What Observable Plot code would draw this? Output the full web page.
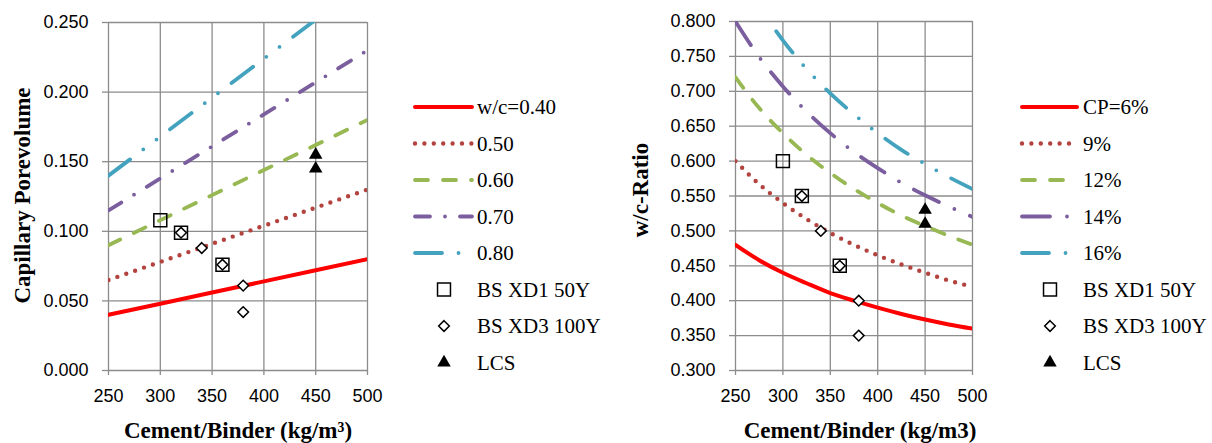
<!DOCTYPE html>
<html><head><meta charset="utf-8">
<script src="https://cdn.jsdelivr.net/npm/d3@7"></script>
<script src="https://cdn.jsdelivr.net/npm/@observablehq/plot@0.6"></script>
<style>
body{margin:0;background:#fff;}
#wrap{position:relative;width:1212px;height:443px;overflow:hidden;background:#fff;}
#wrap svg{position:absolute;top:0;}
</style></head><body><div id="wrap"></div>
<script>
// ---------- Left chart: capillary porevolume vs cement content ----------
const cementL = [250, 300, 350, 400, 450, 500];
const cpWc040 = [0.040, 0.048, 0.056, 0.064, 0.072, 0.080];
const cpWc050 = [0.065, 0.078, 0.091, 0.104, 0.117, 0.130];
const cpWc060 = [0.090, 0.108, 0.126, 0.144, 0.162, 0.180];
const cpWc070 = [0.115, 0.138, 0.161, 0.184, 0.207, 0.230];
const cpWc080 = [0.140, 0.168, 0.196, 0.224, 0.252, 0.280];
const labelsL = ["w/c=0.40", "0.50", "0.60", "0.70", "0.80"];
const xd1L_x = [300, 320, 360];
const xd1L_y = [0.108, 0.099, 0.076];
const xd3L_x = [320, 340, 360, 380, 380];
const xd3L_y = [0.099, 0.088, 0.076, 0.061, 0.042];
const lcsL_x = [450, 450];
const lcsL_y = [0.155, 0.145];
const yTicksL = [0, 0.05, 0.10, 0.15, 0.20, 0.25];

// ---------- Right chart: w/c ratio vs cement content ----------
const cementR = [250, 275, 300, 325, 350, 375, 400, 425, 450, 475, 500];
const wcCp06 = [0.480, 0.458, 0.440, 0.425, 0.411, 0.400, 0.390, 0.381, 0.373, 0.366, 0.360];
const wcCp09 = [0.600, 0.567, 0.540, 0.517, 0.497, 0.480, 0.465, 0.452, 0.440, 0.429, 0.420];
const wcCp12 = [0.720, 0.676, 0.640, 0.609, 0.583, 0.560, 0.540, 0.522, 0.507, 0.493, 0.480];
const wcCp14 = [0.800, 0.749, 0.707, 0.671, 0.640, 0.613, 0.590, 0.569, 0.551, 0.535, 0.520];
const wcCp16 = [0.880, 0.822, 0.773, 0.732, 0.697, 0.667, 0.640, 0.616, 0.596, 0.577, 0.560];
const labelsR = ["CP=6%", "9%", "12%", "14%", "16%"];
const xd1R_x = [300, 320, 360];
const xd1R_y = [0.600, 0.550, 0.450];
const xd3R_x = [320, 340, 360, 380, 380];
const xd3R_y = [0.550, 0.500, 0.450, 0.400, 0.350];
const lcsR_x = [450, 450];
const lcsR_y = [0.530, 0.510];
const yTicksR = [0.30, 0.35, 0.40, 0.45, 0.50, 0.55, 0.60, 0.65, 0.70, 0.75, 0.80];

const xTicks = [250, 300, 350, 400, 450, 500];
const pointLabels = ["BS XD1 50Y", "BS XD3 100Y", "LCS"];

// ---------- styles ----------
const lineColors = ["#FF0000", "#B3433F", "#97B852", "#7B5E9E", "#43A2BE"];
const lineWidths = [4, 4.4, 3.8, 3.8, 3.8];
const dashesL = [null, "0 9.4", "13 15", "15 15 0 15", "27 16.5 0 16.5 0 17"];
const dashesR = [null, "0 9.4", "13 15", "28 17 0 17", "27 16.5 0 16.5 0 17"];
const GRID = "#8c8c8c";
const SANS = "'Liberation Sans', Arial, sans-serif";
const SERIF = "'Liberation Serif', 'Times New Roman', serif";
const SQ_R = 7.3, DI_R = 4.8, TR_R = 5;

const pts = (xs, ys) => xs.map((x, i) => ({x, y: ys[i]}));

function makeChart(cfg) {
  const lineMarks = cfg.series.map((arr, i) =>
    Plot.line(arr.map((v, j) => ({x: cfg.xs[j], y: v})), {
      x: "x", y: "y", stroke: lineColors[i], strokeWidth: lineWidths[i],
      strokeDasharray: cfg.dashes[i] || undefined, strokeLinecap: "round",
      strokeLinejoin: "round", clip: true, curve: cfg.curve
    }));
  return Plot.plot({
    width: cfg.width, height: 443,
    marginLeft: cfg.marginLeft, marginRight: cfg.marginRight,
    marginTop: cfg.marginTop, marginBottom: 73,
    style: {fontFamily: SANS, fontSize: "18px", background: "transparent", left: cfg.left + "px", overflow: "visible"},
    x: {domain: [250, 500]},
    y: {domain: cfg.yDomain},
    marks: [
      Plot.gridX(xTicks, {stroke: GRID, strokeOpacity: 1, strokeWidth: 1.3}),
      Plot.gridY(cfg.yTicks, {stroke: GRID, strokeOpacity: 1, strokeWidth: 1.3}),
      Plot.axisX({ticks: xTicks, tickSize: 5, tickPadding: 14, stroke: GRID, strokeWidth: 1.3, fill: "#000", fontSize: 18, label: null, tickFormat: d3.format("d")}),
      Plot.axisY({ticks: cfg.yTicks, tickSize: 6, tickPadding: 14, stroke: GRID, strokeWidth: 1.3, fill: "#000", fontSize: 18, label: null, tickFormat: d3.format(".3f")}),
      ...lineMarks,
      Plot.dot(cfg.squares, {x: "x", y: "y", symbol: "square", r: SQ_R, stroke: "#000", strokeWidth: 1.5, fill: "none"}),
      Plot.dot(cfg.diamonds, {x: "x", y: "y", symbol: "diamond2", r: DI_R, stroke: "#000", strokeWidth: 1.5, fill: "#fff"}),
      Plot.dot(cfg.triangles, {x: "x", y: "y", symbol: "triangle", r: TR_R, stroke: "none", fill: "#000"}),
      Plot.text([cfg.xTitle], {frameAnchor: "bottom", textAnchor: "middle", lineAnchor: "middle", dy: 60, dx: cfg.xTitleDx, fontFamily: SERIF, fontWeight: "bold", fontSize: 23, fill: "#000"}),
      Plot.text([cfg.yTitle], {frameAnchor: "left", textAnchor: "middle", lineAnchor: "middle", rotate: -90, dx: cfg.yTitleDx, dy: cfg.yTitleDy, fontFamily: SERIF, fontWeight: "bold", fontSize: 23, fill: "#000"})
    ]
  });
}

const wrap = document.getElementById("wrap");

wrap.appendChild(makeChart({
  left: 0, width: 380, marginLeft: 108, marginRight: 13, marginTop: 22,
  xs: cementL, series: [cpWc040, cpWc050, cpWc060, cpWc070, cpWc080], dashes: dashesL,
  curve: "linear", yDomain: [0, 0.25], yTicks: yTicksL,
  squares: pts(xd1L_x, xd1L_y), diamonds: pts(xd3L_x, xd3L_y), triangles: pts(lcsL_x, lcsL_y),
  xTitle: "Cement/Binder (kg/m³)", xTitleDx: 0,
  yTitle: "Capillary Porevolume", yTitleDx: -86, yTitleDy: -1
}));

wrap.appendChild(makeChart({
  left: 600, width: 390, marginLeft: 135, marginRight: 18, marginTop: 21,
  xs: cementR, series: [wcCp06, wcCp09, wcCp12, wcCp14, wcCp16], dashes: dashesR,
  curve: "monotone-x", yDomain: [0.3, 0.8], yTicks: yTicksR,
  squares: pts(xd1R_x, xd1R_y), diamonds: pts(xd3R_x, xd3R_y), triangles: pts(lcsR_x, lcsR_y),
  xTitle: "Cement/Binder (kg/m3)", xTitleDx: 6,
  yTitle: "w/c-Ratio", yTitleDx: -95, yTitleDy: -6
}));

// ---------- legends ----------
const leg = d3.select(wrap).append("svg")
  .attr("width", 1212).attr("height", 443)
  .style("left", "0px").style("pointer-events", "none");

function drawLegend(x0, x1, markerX, textX, labels, dashes) {
  const rowY = i => 107 + i * 36.5;
  labels.forEach((lab, i) => {
    leg.append("line").attr("x1", x0).attr("x2", x1).attr("y1", rowY(i)).attr("y2", rowY(i))
      .attr("stroke", lineColors[i]).attr("stroke-width", lineWidths[i])
      .attr("stroke-dasharray", dashes[i]).attr("stroke-linecap", "round");
    leg.append("text").attr("x", textX).attr("y", rowY(i)).attr("dy", "0.35em")
      .attr("font-family", SERIF).attr("font-size", 21).attr("fill", "#000").text(lab);
  });
  const sym = [
    {type: d3.symbolSquare, r: SQ_R, fill: "none", stroke: "#000"},
    {type: d3.symbolDiamond2, r: DI_R, fill: "#fff", stroke: "#000"},
    {type: d3.symbolTriangle, r: TR_R, fill: "#000", stroke: "none"}
  ];
  pointLabels.forEach((lab, k) => {
    const y = rowY(labels.length + k);
    const s = sym[k];
    leg.append("path").attr("transform", `translate(${markerX},${y})`)
      .attr("d", d3.symbol(s.type, Math.PI * s.r * s.r)())
      .attr("fill", s.fill).attr("stroke", s.stroke).attr("stroke-width", 1.5);
    leg.append("text").attr("x", textX).attr("y", y).attr("dy", "0.35em")
      .attr("font-family", SERIF).attr("font-size", 21).attr("fill", "#000").text(lab);
  });
}
drawLegend(415, 472, 444, 477, labelsL, dashesL);
drawLegend(1022, 1077, 1050, 1083, labelsR, dashesR);
</script></body></html>
